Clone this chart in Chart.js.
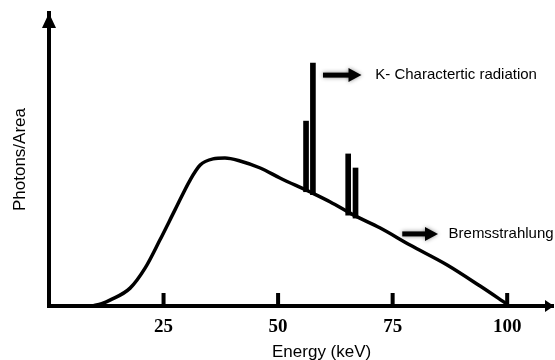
<!DOCTYPE html>
<html>
<head>
<meta charset="utf-8">
<script src="https://cdn.jsdelivr.net/npm/chart.js@4/dist/chart.umd.min.js"></script>
<style>
  html, body { margin: 0; padding: 0; background: #fff; }
  #wrap { width: 555px; height: 360px; }
</style>
</head>
<body>
<div id="wrap"><canvas id="spectrum"></canvas></div>
<script>
// continuous spectrum (Bremsstrahlung)
const energy  = [9.4, 11.5, 13.3, 17.7, 21.0, 24.2, 27.5, 30.8, 33.0, 35.8, 38.4, 41.7, 46.1, 50.4, 57.0, 61.4, 66.4, 72.3, 78.8, 86.9, 94.1, 100];
const photons = [0, 0.8, 2.0, 6.1, 13.0, 22.5, 32.8, 43.0, 48.1, 50.2, 50.5, 49.5, 47.1, 43.7, 38.9, 35.5, 31.1, 26.6, 20.8, 14.0, 6.8, 0.6];

// characteristic K lines
const lineEnergy = [56.1, 57.6, 65.3, 66.9];
const lineTop    = [63.1, 82.9, 51.9, 47.1];
const lineBase   = [39.0, 38.0, 31.0, 30.0];

const tickValues = [25, 50, 75, 100];

const curvePts = energy.map((e, i) => ({x: e, y: photons[i]}));
const spikePts = lineEnergy.map((e, i) => ({x: e, y: [lineBase[i], lineTop[i]]}));

// arrows + labels, in data units
const notes = [
  {x0: 59.8, x1: 68.2, y: 78.8, text: 'K- Charactertic radiation', tx: 71.2},
  {x0: 77.1, x1: 84.9, y: 24.6, text: 'Bremsstrahlung', tx: 87.2}
];
const xTitle = 'Energy (keV)';

const deco = {
  id: 'deco',
  afterDraw(chart) {
    const ctx = chart.ctx, a = chart.chartArea;
    const x = chart.scales.x, y = chart.scales.y;
    ctx.save();
    ctx.fillStyle = '#000';

    // tick marks pointing up, inside the plot
    x.ticks.forEach(t => {
      const px = x.getPixelForValue(t.value);
      ctx.fillRect(px - 2, a.bottom - 13, 4, 13);
    });

    // axis arrow heads
    ctx.beginPath();
    ctx.moveTo(a.left, a.top);
    ctx.lineTo(a.left - 7, a.top + 15);
    ctx.lineTo(a.left + 7, a.top + 15);
    ctx.closePath();
    ctx.fill();

    ctx.beginPath();
    ctx.moveTo(a.right + 1, a.bottom);
    ctx.lineTo(a.right - 8, a.bottom - 6);
    ctx.lineTo(a.right - 8, a.bottom + 6);
    ctx.closePath();
    ctx.fill();

    // annotation arrows
    notes.forEach(n => {
      const x0 = x.getPixelForValue(n.x0), x1 = x.getPixelForValue(n.x1);
      const py = y.getPixelForValue(n.y);
      ctx.save();
      ctx.shadowColor = 'rgba(0,0,0,0.45)';
      ctx.shadowBlur = 4;
      ctx.fillRect(x0, py - 2.5, x1 - x0 - 10, 5);
      ctx.beginPath();
      ctx.moveTo(x1, py);
      ctx.lineTo(x1 - 13, py - 7);
      ctx.lineTo(x1 - 13, py + 7);
      ctx.closePath();
      ctx.fill();
      ctx.restore();

      ctx.font = '15px "Liberation Sans", Arial, sans-serif';
      ctx.textBaseline = 'middle';
      ctx.textAlign = 'left';
      ctx.fillText(n.text, x.getPixelForValue(n.tx), py);
    });

    // x axis title sits off-centre in the original
    ctx.font = '17px "Liberation Sans", Arial, sans-serif';
    ctx.textAlign = 'center';
    ctx.textBaseline = 'middle';
    ctx.fillText(xTitle, x.getPixelForValue(59.5), x.bottom - 8);
    ctx.restore();
  }
};

new Chart(document.getElementById('spectrum'), {
  type: 'line',
  data: {
    datasets: [
      {
        type: 'line',
        data: curvePts,
        borderColor: '#000',
        borderWidth: 3.5,
        pointRadius: 0,
        cubicInterpolationMode: 'monotone',
        fill: false
      },
      {
        type: 'bar',
        data: spikePts,
        backgroundColor: '#000',
        borderWidth: 0,
        barThickness: 5,
        grouped: false
      }
    ]
  },
  options: {
    responsive: true,
    maintainAspectRatio: false,
    animation: false,
    layout: { padding: { top: 13, right: 2, left: 0, bottom: 0 } },
    plugins: { legend: { display: false }, tooltip: { enabled: false } },
    scales: {
      x: {
        type: 'linear',
        offset: false,
        min: 0,
        max: 110,
        grid: { display: false, drawTicks: false, offset: false },
        border: { display: true, color: '#000', width: 4 },
        afterBuildTicks: s => { s.ticks = tickValues.map(v => ({value: v})); },
        afterFit: s => { s.height = 54; },
        ticks: {
          color: '#000',
          padding: 10,
          maxRotation: 0,
          font: { family: '"Liberation Serif", "Times New Roman", serif', size: 19, weight: 'bold' }
        }
      },
      y: {
        min: 0,
        max: 100,
        grid: { display: false, drawTicks: false },
        border: { display: true, color: '#000', width: 4 },
        ticks: { display: false },
        afterFit: s => { s.width = 49; },
        title: {
          display: true,
          text: 'Photons/Area',
          color: '#000',
          padding: { top: 10, bottom: 0 },
          font: { family: '"Liberation Sans", Arial, sans-serif', size: 17 }
        }
      }
    }
  },
  plugins: [deco]
});
</script>
</body>
</html>
